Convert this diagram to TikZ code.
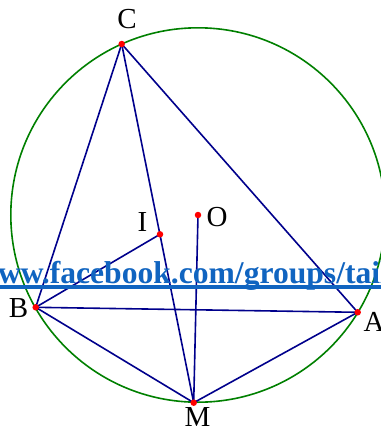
\documentclass[tikz,border=0pt]{standalone}
\usepackage{fontspec}
\setmainfont{Liberation Serif}
\definecolor{navyl}{RGB}{0,0,140}
\definecolor{circg}{RGB}{0,128,0}
\definecolor{wmblue}{RGB}{16,100,192}
\begin{document}
\begin{tikzpicture}[x=1pt,y=-1pt,
  seg/.style={draw=navyl,line width=1.6pt},
  circ/.style={draw=circg,line width=1.6pt},
  dot/.style={circle,fill=red,inner sep=0pt,minimum size=6.5pt},
  lbl/.style={font=\fontsize{29}{30}\selectfont,inner sep=0pt},
  wm/.style={font=\fontsize{31.6}{32}\selectfont\bfseries,text=wmblue,inner sep=0pt,anchor=base west}]
\clip (0,0) rectangle (381,432);
\fill[white] (0,0) rectangle (381,432);
\coordinate (O) at (198,215);
\coordinate (C) at (121.7,44);
\coordinate (B) at (35.7,307.3);
\coordinate (A) at (357.7,312.3);
\coordinate (M) at (193.7,402.7);
\coordinate (I) at (160,234.3);
\draw[circ] (O) circle (187.2);
\draw[seg] (C) -- (B);
\draw[seg] (C) -- (A);
\draw[seg] (C) -- (M);
\draw[seg] (B) -- (A);
\draw[seg] (B) -- (M);
\draw[seg] (A) -- (M);
\draw[seg] (B) -- (I);
\draw[seg] (O) -- (M);
\node[wm] (wmtext) at (-25,283) {www.facebook.com/groups/tailieu};
\fill[wmblue] (0,285) rectangle (381,289);
\foreach \p in {O,C,B,A,M,I} \node[dot] (d\p) at (\p) {};
\node[lbl] (lC) at (127,19) {C};
\node[lbl] (lI) at (142.5,222.5) {I};
\node[lbl] (lO) at (217,217) {O};
\node[lbl] (lB) at (18.5,308) {B};
\node[lbl] (lA) at (374,322) {A};
\node[lbl] (lM) at (197.5,417) {M};
\end{tikzpicture}
\end{document}
